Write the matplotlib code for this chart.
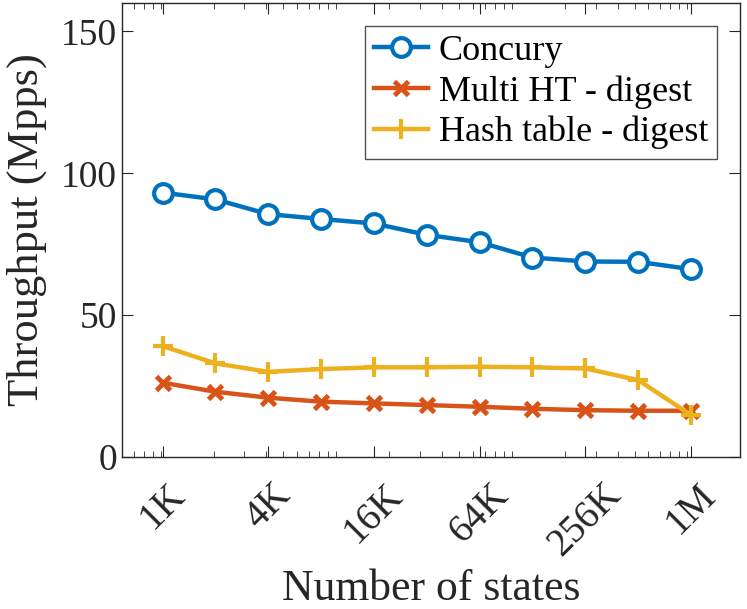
import matplotlib.pyplot as plt
import matplotlib.ticker as mticker
import numpy as np

plt.rcParams['font.family'] = ['Liberation Serif', 'DejaVu Serif']
plt.rcParams['mathtext.fontset'] = 'stix'

states = [1024 * 2 ** k for k in range(11)]
tick_vals = [1024, 4096, 16384, 65536, 262144, 1048576]
tick_labels = ['1K', '4K', '16K', '64K', '256K', '1M']

concury = [93.2, 90.8, 85.6, 83.9, 82.3, 78.3, 75.7, 70.3, 68.9, 68.8, 66.2]
multi_ht = [26.2, 23.0, 20.9, 19.5, 18.9, 18.3, 17.7, 17.0, 16.5, 16.3, 16.3]
hash_table = [39.1, 33.0, 30.0, 31.0, 31.6, 31.6, 31.8, 31.6, 31.2, 27.1, 14.8]

fig = plt.figure(figsize=(7.47, 6.09), dpi=100)
ax = fig.add_axes([0.163, 0.2496, 0.828, 0.7454])

ax.plot(states, concury, '-o', color='#0072BD', lw=3.2, ms=13.5, mew=3,
        mfc='white', label='Concury')
ax.plot(states, multi_ht, '-x', color='#D95319', lw=3.2, ms=10, mew=3.5,
        label='Multi HT - digest')
ax.plot(states, hash_table, '-+', color='#EDB120', lw=3.2, ms=15, mew=3,
        label='Hash table - digest')

ax.set_xscale('log')
ax.set_xlim(600, 2e6)
ax.set_ylim(0, 160)
ax.xaxis.set_major_locator(mticker.FixedLocator(tick_vals))
ax.xaxis.set_major_formatter(mticker.FixedFormatter(tick_labels))
ax.xaxis.set_minor_locator(mticker.LogLocator(base=10, subs=np.arange(1, 10)))
ax.xaxis.set_minor_formatter(mticker.NullFormatter())
ax.set_yticks([0, 50, 100, 150])

for s in ax.spines.values():
    s.set_color('#262626')
    s.set_linewidth(1.0)
ax.tick_params(which='both', direction='in', top=True, right=True,
               colors='#262626', labelsize=27)
ax.tick_params(which='major', length=8)
ax.tick_params(which='minor', length=4)
ax.tick_params(axis='x', which='major', pad=14, labelsize=28)
plt.setp(ax.get_xticklabels(), rotation=45, ha='center', va='top')

ax.set_xlabel('Number of states', fontsize=31.5, color='#262626', labelpad=4)
ax.set_ylabel('Throughput (Mpps)', fontsize=32, color='#262626', labelpad=10)

leg = ax.legend(loc='upper right', bbox_to_anchor=(0.963, 0.95), fontsize=26,
                frameon=True, fancybox=False, edgecolor='#262626',
                handlelength=1.5, handletextpad=0.3, borderpad=0.25,
                labelspacing=0.2, borderaxespad=0.0)
leg.get_frame().set_linewidth(1.0)

fig.savefig('out.png', dpi=100)
